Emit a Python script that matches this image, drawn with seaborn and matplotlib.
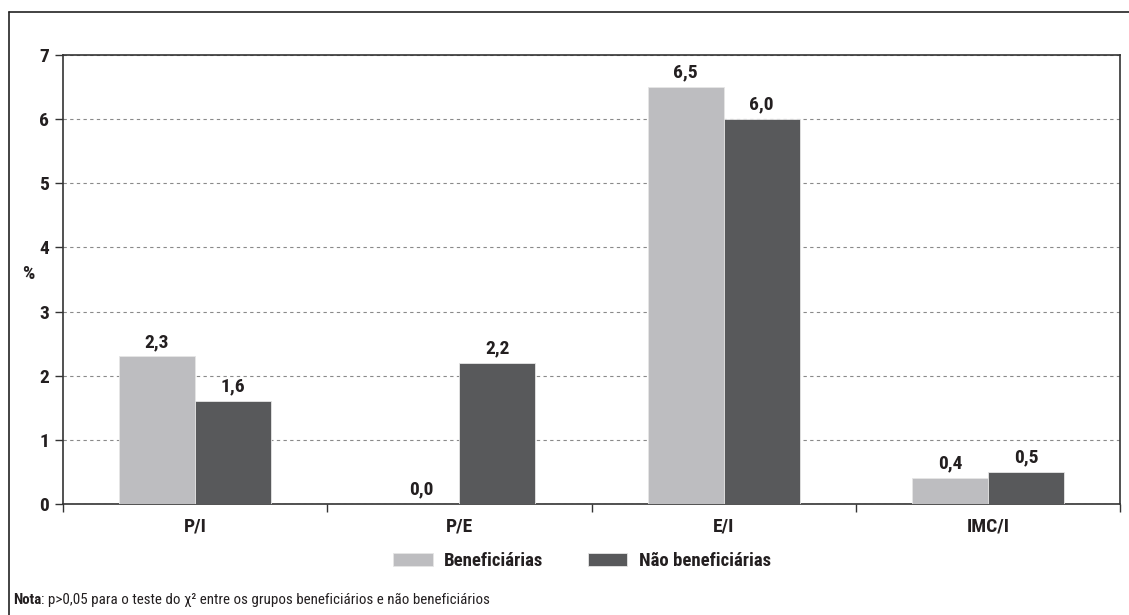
import matplotlib
matplotlib.use("Agg")
import matplotlib.pyplot as plt
from matplotlib.lines import Line2D
from matplotlib import font_manager
import seaborn as sns
import pandas as pd

# Percentages by indicator and group
categories = ["P/I", "P/E", "E/I", "IMC/I"]
beneficiarias = [2.3, 0.0, 6.5, 0.4]
nao_beneficiarias = [1.6, 2.2, 6.0, 0.5]
group_names = ["Beneficiárias", "Não beneficiárias"]
y_ticks = [0, 1, 2, 3, 4, 5, 6, 7]

df = pd.DataFrame({
    "indicador": categories * 2,
    "valor": beneficiarias + nao_beneficiarias,
    "grupo": [group_names[0]] * len(categories) + [group_names[1]] * len(categories),
})

sns.set_theme(style="white")

# Prefer a narrow sans face; fall back to condensed DejaVu
names = {f.name for f in font_manager.fontManager.ttflist}
narrow = None
for cand in ["Liberation Sans Narrow", "Roboto Condensed", "Open Sans Condensed",
             "Noto Sans Condensed", "DejaVu Sans Condensed"]:
    if cand in names:
        narrow = cand
        break
FONT = [narrow, "DejaVu Sans"] if narrow else ["DejaVu Sans"]
plt.rcParams["font.family"] = FONT
plt.rcParams["font.stretch"] = "condensed"
plt.rcParams["font.weight"] = "bold"

light, dark = "#bcbdc0", "#58595b"
axis_col = "#333333"
txt_col = "#231f20"
FS = 14

fig = plt.figure(figsize=(11.29, 6.15), dpi=100)
ax = fig.add_axes([63 / 1129, 111 / 615, 1057 / 1129, 449 / 615])

sns.barplot(data=df, x="indicador", y="valor", hue="grupo", order=categories,
            hue_order=group_names, palette=[light, dark], width=0.576,
            edgecolor="#e6e6e6", linewidth=0.6, ax=ax, zorder=3)

for cont in ax.containers:
    ax.bar_label(cont, labels=[f"{v:.1f}".replace(".", ",") for v in cont.datavalues],
                 padding=4, fontsize=FS, fontweight="bold", color=txt_col,
                 fontstretch="condensed")

ax.set_ylim(0, 7)
ax.set_xlim(-0.5, len(categories) - 0.5)
ax.set_yticks(y_ticks)
ax.set_yticklabels([str(t) for t in y_ticks], fontsize=FS, fontweight="bold",
                   color=txt_col, fontstretch="condensed")
ax.yaxis.grid(True, linestyle=(0, (3, 3)), color="#8a8a8a", linewidth=0.8, zorder=0)
ax.xaxis.grid(False)

ax.tick_params(axis="y", which="major", direction="out", length=6, width=1,
               color=axis_col, left=True, pad=4)
ax.set_xticks(range(len(categories)))
ax.set_xticklabels(categories, fontsize=FS, fontweight="bold", color=txt_col,
                   fontstretch="condensed")
ax.set_xticks([i - 0.5 for i in range(len(categories) + 1)], minor=True)
ax.tick_params(axis="x", which="major", length=0, pad=10)
ax.tick_params(axis="x", which="minor", direction="out", length=6, width=1,
               color=axis_col, bottom=True)

for s in ax.spines.values():
    s.set_visible(True)
    s.set_color(axis_col)
    s.set_linewidth(1.2)

ax.set_xlabel("")
ax.set_ylabel("%", rotation=0, fontsize=FS, fontweight="bold", color=txt_col,
              fontstretch="condensed")
ax.yaxis.set_label_coords(-0.033, 0.492)

sns.move_legend(ax, "center", bbox_to_anchor=(0.5155, 0.0878),
                bbox_transform=fig.transFigure, ncol=2, frameon=False, title=None,
                prop={"size": 13.5, "weight": "bold", "stretch": "condensed",
                      "family": FONT},
                handlelength=2.1, handleheight=0.72, handletextpad=0.6,
                columnspacing=2.4)
for t in ax.get_legend().get_texts():
    t.set_color(txt_col)

# Outer frame (top and left edges)
fig.add_artist(Line2D([9 / 1129, 9 / 1129], [0, 1 - 12 / 615],
                      transform=fig.transFigure, color="#222222", linewidth=1.2))
fig.add_artist(Line2D([9 / 1129, 1], [1 - 12 / 615, 1 - 12 / 615],
                      transform=fig.transFigure, color="#222222", linewidth=1.2))

# Note line
note_y = 15 / 615
t1 = fig.text(13 / 1129, note_y, "Nota", fontsize=10.8, fontweight="bold",
              color=txt_col, va="center", family=FONT, fontstretch="condensed")
fig.canvas.draw()
r = fig.canvas.get_renderer()
bb = t1.get_window_extent(r)
fig.text(bb.x1 / 1129, note_y,
         ": p>0,05 para o teste do χ² entre os grupos beneficiários e não beneficiários",
         fontsize=10.8, fontweight="normal", color=txt_col, va="center", family=FONT,
         fontstretch="condensed")

fig.savefig("out.png", dpi=100)
